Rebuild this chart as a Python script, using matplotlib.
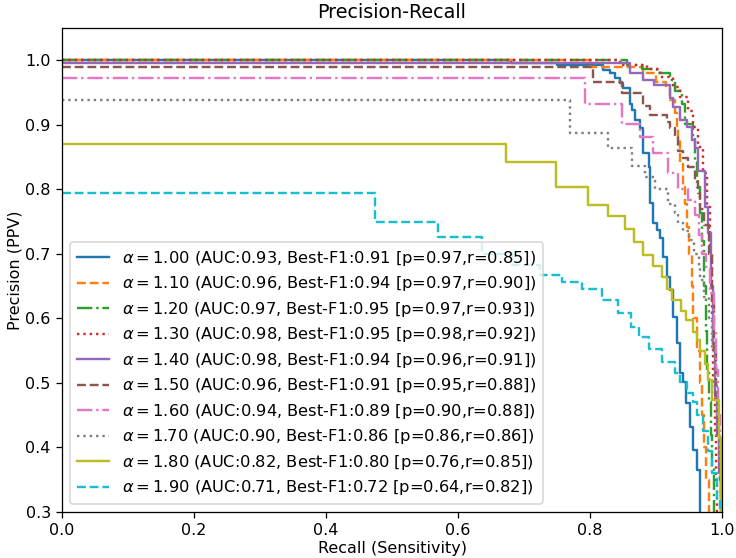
import matplotlib
matplotlib.use("Agg")
import matplotlib.pyplot as plt

# Valeurs : rappel (début de palier) et précision du palier
alphas = [1.00, 1.10, 1.20, 1.30, 1.40, 1.50, 1.60, 1.70, 1.80, 1.90]
aucs = [0.93, 0.96, 0.97, 0.98, 0.98, 0.96, 0.94, 0.90, 0.82, 0.71]
best_f1 = [0.91, 0.94, 0.95, 0.95, 0.94, 0.91, 0.89, 0.86, 0.80, 0.72]
best_p = [0.97, 0.97, 0.97, 0.98, 0.96, 0.95, 0.90, 0.86, 0.76, 0.64]
best_r = [0.85, 0.90, 0.93, 0.92, 0.91, 0.88, 0.88, 0.86, 0.85, 0.82]

r_a100 = [0, 0.68, 0.75, 0.820, 0.830, 0.838, 0.845, 0.850, 0.861, 0.864, 0.868, 0.876, 0.880, 0.889, 0.891,
          0.895, 0.902, 0.906, 0.911, 0.917, 0.921, 0.926, 0.932, 0.936, 0.941, 0.945, 0.952, 0.956, 0.962, 0.967]
p_a100 = [1.0, 0.995, 0.992, 0.985, 0.980, 0.972, 0.964, 0.957, 0.933, 0.923, 0.907, 0.895, 0.856, 0.834, 0.779,
          0.748, 0.737, 0.724, 0.695, 0.664, 0.644, 0.602, 0.562, 0.515, 0.502, 0.469, 0.432, 0.396, 0.365, 0.25]

r_a110 = [0, 0.80, 0.88, 0.90, 0.915, 0.921, 0.929, 0.932, 0.933, 0.936, 0.941, 0.944, 0.947, 0.950, 0.955,
          0.956, 0.962, 0.967, 0.970, 0.973, 0.976, 0.980]
p_a110 = [1.0, 0.99, 0.98, 0.966, 0.957, 0.938, 0.919, 0.896, 0.876, 0.84, 0.803, 0.778, 0.741, 0.70, 0.65,
          0.60, 0.55, 0.50, 0.45, 0.40, 0.35, 0.25]

r_a120 = [0, 0.856, 0.879, 0.902, 0.921, 0.929, 0.939, 0.944, 0.956, 0.959, 0.962, 0.967, 0.970, 0.973, 0.976,
          0.977, 0.980, 0.983, 0.985, 0.988]
p_a120 = [1.0, 0.992, 0.986, 0.98, 0.969, 0.953, 0.933, 0.902, 0.881, 0.845, 0.803, 0.763, 0.72, 0.65, 0.58,
          0.52, 0.47, 0.42, 0.37, 0.25]

r_a130 = [0, 0.845, 0.886, 0.906, 0.926, 0.936, 0.948, 0.956, 0.964, 0.971, 0.977, 0.982, 0.985, 0.987, 0.989,
          0.991, 0.993]
p_a130 = [1.0, 0.992, 0.986, 0.974, 0.958, 0.943, 0.922, 0.896, 0.865, 0.825, 0.772, 0.70, 0.60, 0.50, 0.42,
          0.35, 0.25]

r_a140 = [0, 0.861, 0.880, 0.897, 0.921, 0.926, 0.936, 0.947, 0.955, 0.959, 0.964, 0.974, 0.979, 0.983, 0.986,
          0.989, 0.992, 0.995, 0.998]
p_a140 = [0.995, 0.980, 0.969, 0.961, 0.941, 0.927, 0.907, 0.896, 0.876, 0.864, 0.829, 0.772, 0.732, 0.65, 0.56,
          0.48, 0.42, 0.36, 0.25]

r_a150 = [0, 0.805, 0.848, 0.880, 0.891, 0.917, 0.921, 0.929, 0.933, 0.941, 0.948, 0.959, 0.964, 0.967, 0.973,
          0.980, 0.985, 0.988, 0.991, 0.994, 0.997, 0.999]
p_a150 = [0.990, 0.966, 0.949, 0.929, 0.915, 0.904, 0.895, 0.881, 0.860, 0.848, 0.834, 0.814, 0.794, 0.770, 0.745,
          0.70, 0.62, 0.55, 0.48, 0.42, 0.35, 0.25]

r_a160 = [0, 0.792, 0.848, 0.876, 0.895, 0.918, 0.933, 0.948, 0.959, 0.965, 0.970, 0.975, 0.982, 0.988, 0.991,
          0.994, 0.997, 0.999]
p_a160 = [0.972, 0.933, 0.902, 0.881, 0.857, 0.825, 0.800, 0.783, 0.76, 0.73, 0.70, 0.68, 0.64, 0.58, 0.52,
          0.45, 0.38, 0.25]

r_a170 = [0, 0.770, 0.827, 0.864, 0.883, 0.898, 0.918, 0.929, 0.933, 0.941, 0.950, 0.958, 0.965, 0.967, 0.973,
          0.980, 0.985, 0.990, 0.993, 0.996, 0.998]
p_a170 = [0.938, 0.887, 0.864, 0.836, 0.819, 0.800, 0.778, 0.763, 0.748, 0.735, 0.721, 0.700, 0.679, 0.659, 0.633,
          0.60, 0.55, 0.50, 0.45, 0.38, 0.25]

r_a180 = [0, 0.673, 0.748, 0.797, 0.827, 0.853, 0.867, 0.880, 0.895, 0.909, 0.917, 0.924, 0.938, 0.945, 0.956,
          0.962, 0.967, 0.974, 0.979, 0.985, 0.995, 0.998]
p_a180 = [0.871, 0.843, 0.803, 0.775, 0.758, 0.738, 0.718, 0.698, 0.681, 0.664, 0.645, 0.628, 0.611, 0.598, 0.579,
          0.567, 0.550, 0.530, 0.505, 0.473, 0.415, 0.25]

r_a190 = [0, 0.474, 0.570, 0.636, 0.682, 0.724, 0.758, 0.788, 0.818, 0.842, 0.862, 0.874, 0.889, 0.909, 0.929,
          0.936, 0.947, 0.956, 0.962, 0.971, 0.979, 0.985, 0.992, 0.997]
p_a190 = [0.794, 0.749, 0.726, 0.700, 0.682, 0.667, 0.656, 0.645, 0.628, 0.609, 0.586, 0.571, 0.552, 0.533, 0.515,
          0.501, 0.484, 0.470, 0.450, 0.425, 0.395, 0.36, 0.32, 0.25]

recalls = [r_a100, r_a110, r_a120, r_a130, r_a140, r_a150, r_a160, r_a170, r_a180, r_a190]
precisions = [p_a100, p_a110, p_a120, p_a130, p_a140, p_a150, p_a160, p_a170, p_a180, p_a190]
linestyles = ['-', '--', '-.', ':']

fig = plt.figure(figsize=(736 / 115, 558 / 115), dpi=115)
ax = fig.add_axes([62 / 736, 1 - 512 / 558, 660 / 736, 484 / 558])

for i, (r, p) in enumerate(zip(recalls, precisions)):
    label = (r'$\alpha = %.2f$ (AUC:%.2f, Best-F1:%.2f [p=%.2f,r=%.2f])'
             % (alphas[i], aucs[i], best_f1[i], best_p[i], best_r[i]))
    ax.step(r, p, where='post', color='C%d' % i, linestyle=linestyles[i % 4], label=label)

ax.set_xlim(0, 1.0)
ax.set_ylim(0.3, 1.05)
ax.set_xlabel("Recall (Sensitivity)", labelpad=1.5)
ax.set_ylabel("Precision (PPV)", labelpad=1.5)
ax.set_title("Precision-Recall")
ax.legend(loc='lower left', fontsize=10.2, labelspacing=0.4)

fig.savefig("out.png", dpi=115)
